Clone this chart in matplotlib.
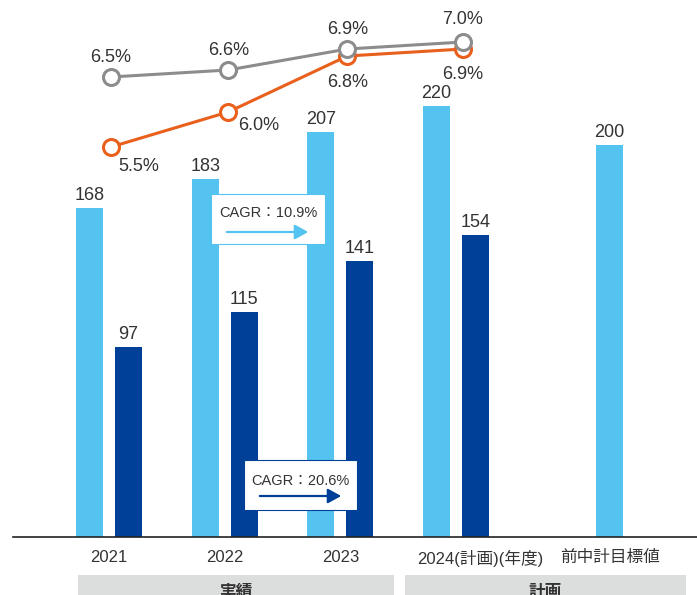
import matplotlib
matplotlib.use("Agg")
import matplotlib.pyplot as plt
from matplotlib import transforms
from matplotlib.patches import Rectangle, FancyArrowPatch

plt.rcParams['font.family'] = ['Liberation Sans Narrow', 'Liberation Sans', 'Noto Sans CJK JP']

# data
categories = ["2021", "2022", "2023", "2024(計画)(年度)", "前中計目標値"]
sales = [168, 183, 207, 220, 200]          # light blue bars
profit = [97, 115, 141, 154]               # dark blue bars
margin_gray = [6.5, 6.6, 6.9, 7.0]
margin_orange = [5.5, 6.0, 6.8, 6.9]
gray_labels = ["6.5%", "6.6%", "6.9%", "7.0%"]
orange_labels = ["5.5%", "6.0%", "6.8%", "6.9%"]
cagr_sales = "CAGR：10.9%"
cagr_profit = "CAGR：20.6%"
bands = ["実績", "計画"]

LIGHT = "#55C3F0"
DARK = "#004098"
ORANGE = "#E8601C"
GRAY = "#8C8C8C"
TEXT = "#333333"

W, H = 697, 595
fig = plt.figure(figsize=(W / 100, H / 100), dpi=100)


def fpx(x, y):
    # pixel position (from top-left) -> figure fraction
    return x / W, 1 - y / H


ax = fig.add_axes([13 / W, 58 / H, 684 / W, 537 / H])
ax.set_xlim(-0.83, 5.082)
ax.set_ylim(0, 537 / 1.958)
for s in ["top", "right", "left"]:
    ax.spines[s].set_visible(False)
ax.spines["bottom"].set_color("#222222")
ax.spines["bottom"].set_linewidth(1.2)
ax.set_yticks([])

group_x = [0, 1, 2, 3, 4.326]
bw = 0.233
off = 0.1685

light_x = [g - off for g in group_x[:4]] + [group_x[4]]
dark_x = [g + off for g in group_x[:4]]
b1 = ax.bar(light_x, sales, width=bw, color=LIGHT, zorder=2)
b2 = ax.bar(dark_x, profit, width=bw, color=DARK, zorder=2)
ax.bar_label(b1, padding=3, fontsize=13, color=TEXT)
ax.bar_label(b2, padding=3, fontsize=13, color=TEXT)

ax.set_xticks(group_x)
ax.set_xticklabels(categories, fontsize=12, color=TEXT)
ax.tick_params(axis="x", length=0, pad=9)
lbl = ax.get_xticklabels()[3]
lbl.set_transform(lbl.get_transform() + transforms.ScaledTranslation(0.24, 0, fig.dpi_scale_trans))

# margin lines
ax2 = ax.twinx()
ax2.set_ylim(-0.071, 7.6)
ax2.axis("off")
line_x = [0.015, 1.03, 2.06, 3.06]
ax2.plot(line_x, margin_orange, color=ORANGE, lw=2.2, marker="o", ms=11.5,
         mfc="white", mec=ORANGE, mew=2.2, zorder=3)
ax2.plot(line_x, margin_gray, color=GRAY, lw=2.2, marker="o", ms=11.5,
         mfc="white", mec=GRAY, mew=2.2, zorder=4)

gray_off = [(0, 14), (0, 14), (0, 14), (0, 16)]
orange_off = [(20, -14), (22, -10), (0, -19), (0, -18)]
for x, v, t, o in zip(line_x, margin_gray, gray_labels, gray_off):
    ax2.annotate(t, (x, v), xytext=o, textcoords="offset points",
                 ha="center", va="center", fontsize=13, color=TEXT)
for x, v, t, o in zip(line_x, margin_orange, orange_labels, orange_off):
    ax2.annotate(t, (x, v), xytext=o, textcoords="offset points",
                 ha="center", va="center", fontsize=13, color=TEXT)

# CAGR boxes
for (x0, y0, x1, y1), txt, col, (tx, ty), (ax0, ax1, ay) in [
    ((211, 194, 325, 244), cagr_sales, LIGHT, (268, 213), (224, 311, 232)),
    ((244, 460, 357, 510), cagr_profit, DARK, (300, 481), (257, 344, 496)),
]:
    fx0, fy1 = fpx(x0, y1)
    fx1, fy0 = fpx(x1, y0)
    fig.patches.append(Rectangle((fx0, fy1), fx1 - fx0, fy0 - fy1, transform=fig.transFigure,
                                 facecolor="white", edgecolor=col, lw=0.8, zorder=5))
    fig.text(*fpx(tx, ty), txt, ha="center", va="center", fontsize=10.5, color=TEXT, zorder=6)
    fig.add_artist(FancyArrowPatch(
        fpx(ax0, ay), fpx(ax1, ay), transform=fig.transFigure,
        arrowstyle="-|>,head_length=4,head_width=2.2",
        color=col, lw=1.6, mutation_scale=2, zorder=6))

# bottom bands
for (x0, x1), t in zip([(78, 394), (405, 686)], bands):
    fx0, fy = fpx(x0, 595)
    fx1, fy1 = fpx(x1, 575)
    fig.patches.append(Rectangle((fx0, fy), fx1 - fx0, fy1 - fy, transform=fig.transFigure,
                                 facecolor="#DCDDDD", edgecolor="none"))
    fig.text(*fpx((x0 + x1) / 2, 592), t, ha="center", va="center", fontsize=12,
             fontweight="bold", color=TEXT, family=["Noto Sans CJK JP"])

fig.savefig("out.png", dpi=100)
